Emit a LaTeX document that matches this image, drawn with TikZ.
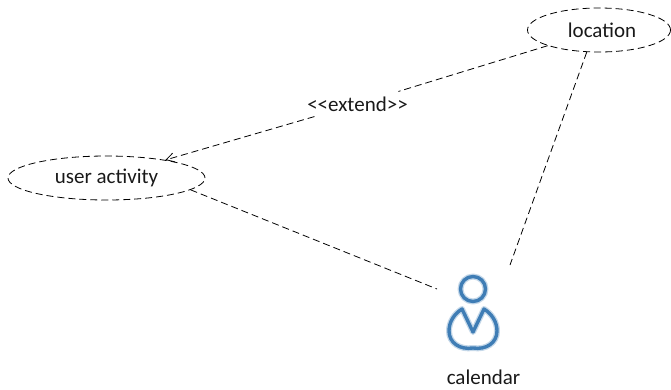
\documentclass[tikz,border=0pt]{standalone}
\usepackage{fontspec}
\setmainfont{Carlito}
\usetikzlibrary{shapes.geometric,arrows.meta}
\definecolor{actorblue}{HTML}{3F7DB5}
\tikzset{
  usecase/.style={draw=black,ellipse,inner sep=0pt,line width=0.8pt,dash pattern=on 7pt off 4pt},
  dashline/.style={draw=black,line width=0.8pt,dash pattern=on 7pt off 4pt},
  lbl/.style={font=\fontsize{21pt}{25pt}\selectfont,text=black!90,inner sep=1pt},
  actorglow/.style={draw=actorblue!30,line width=6pt,line join=round,line cap=round},
  actorline/.style={draw=actorblue,line width=3.4pt,line join=round,line cap=round}
}
\newcommand{\actorhead}{(473,289) circle (12.5)}
\newcommand{\actorbody}{(462,309) -- (473,332) -- (484,309) .. controls (492,314) and (497,322) .. (497,331) .. controls (497,343) and (486,350) .. (473,348) .. controls (460,350) and (449,343) .. (449,331) .. controls (449,322) and (454,314) .. (462,309) -- cycle}
\begin{document}
\begin{tikzpicture}[x=1pt,y=-1pt]
\useasboundingbox (0,0) rectangle (671,389);
\node[usecase,minimum width=143pt,minimum height=44pt,lbl] (loc) at (599,30) {\hspace*{6pt}location};
\node[usecase,minimum width=197pt,minimum height=44pt,lbl] (ua) at (106.5,178) {user activity};
\node[lbl,inner sep=5pt] (ext) at (357.5,104) {<{}<extend>{}>};
\node[lbl] (cal) at (483.5,377) {calendar};
\coordinate (actorA) at (437,289);
\coordinate (actorB) at (510,265);
\draw[dashline] (loc.197) -- (ext);
\draw[dashline,-{Straight Barb[length=8pt,width=9pt,line width=0.8pt]}] (ext) -- (ua.17);
\draw[dashline] (ua.-8) -- (actorA);
\draw[dashline] (loc.241) -- (actorB);
\draw[actorglow] \actorhead;
\draw[actorglow] \actorbody;
\draw[actorline] \actorhead;
\draw[actorline] \actorbody;
\end{tikzpicture}
\end{document}
